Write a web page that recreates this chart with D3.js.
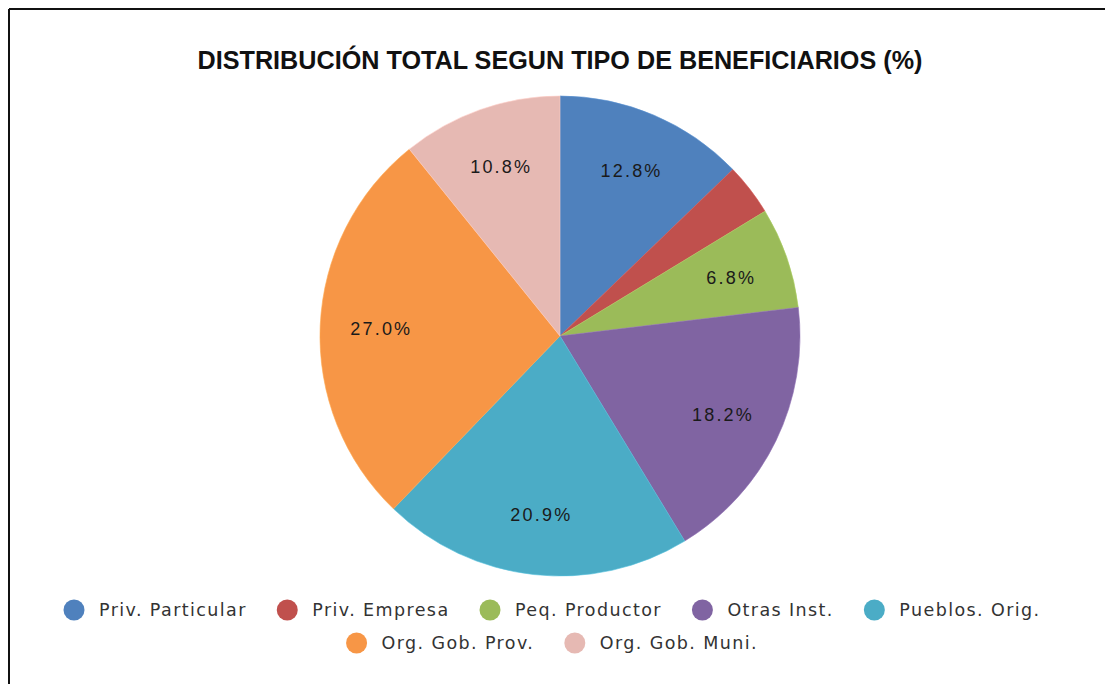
<!DOCTYPE html>
<html>
<head>
<meta charset="utf-8">
<script src="https://cdn.jsdelivr.net/npm/d3@7"></script>
<style>
  html, body { margin: 0; padding: 0; background: #fff; }
  svg { display: block; }
</style>
</head>
<body>
<svg id="chart" width="1105" height="684"></svg>
<script>
const title = "DISTRIBUCIÓN TOTAL SEGUN TIPO DE BENEFICIARIOS (%)";
const categories = ["Priv. Particular", "Priv. Empresa", "Peq. Productor", "Otras Inst.", "Pueblos. Orig.", "Org. Gob. Prov.", "Org. Gob. Muni."];
const values = [12.8, 3.5, 6.8, 18.2, 20.9, 27.0, 10.8];
const colors = ["#4F81BD", "#C0504D", "#9BBB59", "#8064A2", "#4BACC6", "#F79646", "#E6B9B3"];
const legendRows = [[0, 1, 2, 3, 4], [5, 6]];

const svg = d3.select("#chart");
const W = 1105, H = 684;

// frame
svg.append("line").attr("x1", 9).attr("y1", 9).attr("x2", W).attr("y2", 9)
  .attr("stroke", "#111").attr("stroke-width", 2);
svg.append("line").attr("x1", 9).attr("y1", 9).attr("x2", 9).attr("y2", H)
  .attr("stroke", "#111").attr("stroke-width", 2);

// title
const t = svg.append("text").attr("x", 560).attr("y", 69).attr("text-anchor", "middle")
  .attr("font-family", "Liberation Sans, Arial, sans-serif").attr("font-weight", "bold")
  .attr("font-size", 20).attr("fill", "#111").text(title);
const tw = t.node().getComputedTextLength();
t.attr("font-size", 20 * 725 / tw);

// pie
const cx = 560, cy = 336, R = 240;
const pie = d3.pie().sort(null).value(d => d)(values);
const arc = d3.arc().innerRadius(0).outerRadius(R);
const labelArc = d3.arc().innerRadius(180).outerRadius(180);
const color = d3.scaleOrdinal().domain(categories).range(colors);

const g = svg.append("g").attr("transform", `translate(${cx},${cy})`);
g.selectAll("path").data(pie).join("path")
  .attr("d", arc)
  .attr("fill", (d, i) => color(categories[i]))
  .attr("stroke", (d, i) => d3.color(color(categories[i])).brighter(0.3))
  .attr("stroke-width", 0.6);

const lblSpacing = 2.2;
g.selectAll("text.lbl").data(pie.filter(d => d.data >= 5)).join("text")
  .attr("class", "lbl")
  .attr("transform", d => { const c = labelArc.centroid(d); return `translate(${c[0] + lblSpacing / 2},${c[1]})`; })
  .attr("text-anchor", "middle").attr("dy", "0.36em")
  .attr("font-family", "Liberation Sans, Arial, sans-serif").attr("font-size", 18)
  .attr("letter-spacing", lblSpacing)
  .attr("fill", "#1a1a1a")
  .text(d => d.data.toFixed(1) + "%");

// legend
const legendCenter = 552;
const rowY = [610, 643];
const circleR = 10.5, gapCT = 25, itemGap = 30;
legendRows.forEach((row, ri) => {
  const lg = svg.append("g");
  const items = row.map(i => {
    const it = lg.append("g");
    it.append("circle").attr("cx", 0).attr("cy", 0).attr("r", circleR).attr("fill", colors[i]);
    const tx = it.append("text").attr("x", gapCT).attr("y", 0).attr("dy", "0.35em")
      .attr("font-family", "DejaVu Sans, sans-serif").attr("font-size", 17.5)
      .attr("letter-spacing", 1.4).attr("fill", "#333").text(categories[i]);
    const w = circleR + gapCT + tx.node().getComputedTextLength();
    return { it, w };
  });
  const total = d3.sum(items, d => d.w) + itemGap * (items.length - 1);
  let x = legendCenter - total / 2 + circleR;
  items.forEach(d => {
    d.it.attr("transform", `translate(${x},${rowY[ri]})`);
    x += d.w + itemGap;
  });
});
</script>
</body>
</html>
